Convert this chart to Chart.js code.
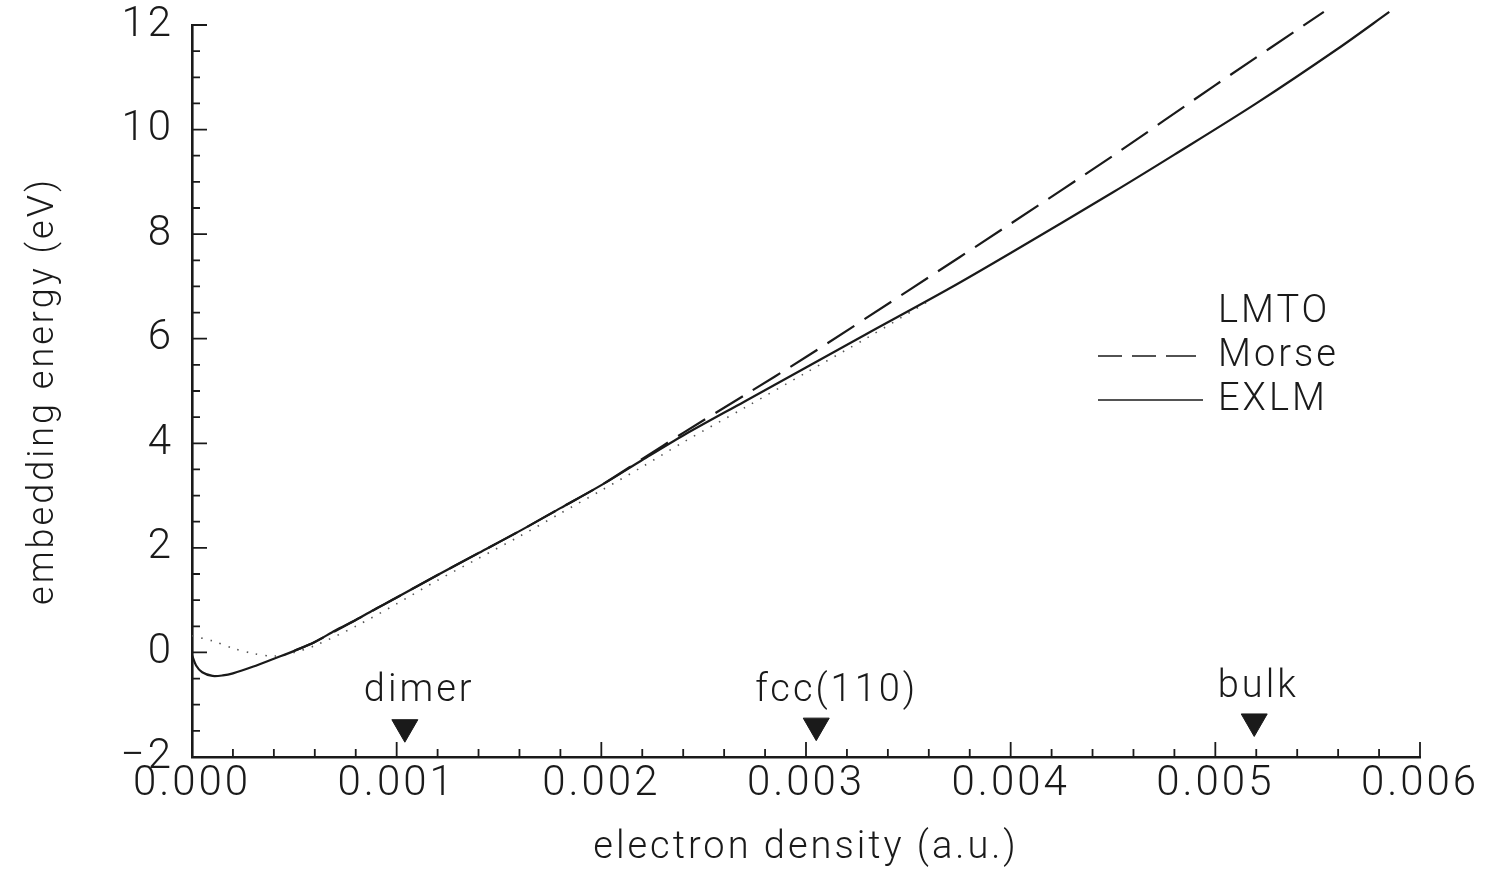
<!DOCTYPE html>
<html><head><meta charset="utf-8">
<script src="https://cdn.jsdelivr.net/npm/chart.js@4.4.1/dist/chart.umd.min.js"></script>
<style>html,body{margin:0;padding:0;background:#fff}#wrap{width:1485px;height:871px}</style>
</head><body><div id="wrap"><canvas id="c" width="1485" height="871"></canvas></div>
<script>
// ---- data ----
const densityExlm = [0, 0.00002, 0.00005, 0.0001, 0.00015, 0.0002, 0.0003, 0.0004, 0.0005, 0.0006, 0.0007, 0.0008, 0.0009, 0.001, 0.0012, 0.0014, 0.0016, 0.0018, 0.002, 0.0022, 0.0024, 0.0027, 0.003, 0.0033, 0.0037, 0.004, 0.0045, 0.0048, 0.0052, 0.0056, 0.00585];
const energyExlm  = [-0.05, -0.25, -0.38, -0.45, -0.44, -0.40, -0.27, -0.12, 0.03, 0.20, 0.42, 0.62, 0.84, 1.05, 1.48, 1.90, 2.32, 2.76, 3.20, 3.68, 4.15, 4.80, 5.45, 6.10, 6.96, 7.64, 8.80, 9.52, 10.50, 11.55, 12.25];

const densityMorse = [0.0005, 0.0006, 0.0008, 0.001, 0.0012, 0.0014, 0.0016, 0.0018, 0.002, 0.0022, 0.0024, 0.0027, 0.003, 0.0035, 0.004, 0.0045, 0.005, 0.00553];
const energyMorse  = [0.03, 0.20, 0.62, 1.05, 1.48, 1.90, 2.32, 2.76, 3.20, 3.70, 4.20, 4.92, 5.65, 6.92, 8.20, 9.50, 10.85, 12.25];

const densityLmto = [0, 0.0001, 0.0002, 0.0003, 0.0004, 0.0005, 0.0006, 0.0008, 0.001, 0.0012, 0.0014, 0.0016, 0.0018, 0.002, 0.0022, 0.0024, 0.0027, 0.003, 0.0033, 0.0036];
const energyLmto  = [0.32, 0.22, 0.08, -0.02, -0.07, 0.00, 0.13, 0.50, 0.93, 1.38, 1.80, 2.22, 2.66, 3.10, 3.55, 4.02, 4.68, 5.35, 6.02, 6.72];

const siteLabels = ['dimer', 'fcc(110)', 'bulk'];
const siteDensity = [0.00104, 0.00305, 0.00519];
const siteMarkerEnergy = [-1.43, -1.40, -1.32];
const siteLabelDensity = [0.00111, 0.00315, 0.00521];
const siteLabelEnergy = [-0.75, -0.75, -0.67];

const xTickValues = [0, 0.001, 0.002, 0.003, 0.004, 0.005, 0.006];
const yTickValues = [-2, 0, 2, 4, 6, 8, 10, 12];

const FONT = "Roboto, 'Liberation Sans', sans-serif";
const INK = '#1a1a1a';

function pts(xs, ys) { return xs.map((x, i) => ({ x, y: ys[i] })); }

const spacingPlugin = {
  id: 'spacing',
  beforeUpdate(chart) { chart.ctx.letterSpacing = '3px'; },
  beforeDraw(chart) { chart.ctx.letterSpacing = '3px'; }
};

const ticksPlugin = {
  id: 'innerTicks',
  afterDraw(chart) {
    const { ctx, scales: { x, y }, chartArea: a } = chart;
    ctx.save();
    ctx.strokeStyle = INK;
    ctx.lineWidth = 1.8;
    ctx.beginPath();
    for (let i = 0; i <= 30; i++) {
      const v = i * 0.0002;
      const px = x.getPixelForValue(v);
      const len = i % 5 === 0 ? 15 : 8;
      ctx.moveTo(px, a.bottom);
      ctx.lineTo(px, a.bottom - len);
    }
    for (let i = 0; i <= 28; i++) {
      const v = -2 + i * 0.5;
      const py = y.getPixelForValue(v);
      const len = i % 4 === 0 ? 15 : 8;
      ctx.moveTo(a.left, py);
      ctx.lineTo(a.left + len, py);
    }
    ctx.stroke();
    ctx.restore();
  }
};

const annotPlugin = {
  id: 'annot',
  afterDatasetsDraw(chart) {
    const { ctx, scales: { x, y } } = chart;
    ctx.save();
    ctx.letterSpacing = '3px';
    ctx.fillStyle = INK;
    ctx.font = "300 38px " + FONT;
    ctx.textAlign = 'center';
    ctx.textBaseline = 'middle';
    siteLabels.forEach((t, i) => {
      ctx.fillText(t, x.getPixelForValue(siteLabelDensity[i]), y.getPixelForValue(siteLabelEnergy[i]));
    });
    // legend
    const lx0 = 1098, lx1 = 1203, tx = 1218;
    const rows = [312, 356, 400];
    chart.data.datasets.slice(0, 3).forEach((ds, i) => {
      const ly = rows[i];
      if (ds.legendSample !== false) {
        ctx.save();
        ctx.strokeStyle = ds.borderColor;
        ctx.lineWidth = 1.6;
        ctx.setLineDash(ds.legendDash || []);
        ctx.beginPath();
        ctx.moveTo(lx0, ly);
        ctx.lineTo(lx1, ly);
        ctx.stroke();
        ctx.restore();
      }
      ctx.textAlign = 'left';
      ctx.fillText(ds.label, tx, ly);
    });
    ctx.restore();
  }
};

new Chart(document.getElementById('c'), {
  type: 'line',
  data: {
    datasets: [
      { label: 'LMTO', data: pts(densityLmto, energyLmto), borderColor: '#555', borderWidth: 1.6,
        borderDash: [1.5, 8], pointRadius: 0, tension: 0.3, legendSample: false, order: 3 },
      { label: 'Morse', data: pts(densityMorse, energyMorse), borderColor: INK, borderWidth: 2.2,
        borderDash: [32, 12], pointRadius: 0, tension: 0.3, legendDash: [24, 10, 24, 10, 30], order: 2, clip: false },
      { label: 'EXLM', data: pts(densityExlm, energyExlm), borderColor: INK, borderWidth: 2.2,
        pointRadius: 0, tension: 0.3, order: 1, clip: false },
      { label: 'sites', type: 'scatter', data: pts(siteDensity, siteMarkerEnergy), pointStyle: 'triangle',
        rotation: 180, pointRadius: 15, backgroundColor: INK, borderColor: INK, showLine: false, order: 0 }
    ]
  },
  options: {
    responsive: false,
    devicePixelRatio: 1,
    animation: false,
    layout: { padding: { left: 22, right: 65, top: 25, bottom: 0 } },
    plugins: { legend: { display: false }, tooltip: { enabled: false } },
    scales: {
      x: {
        type: 'linear', min: 0, max: 0.006,
        afterFit(s) { s.height = 114; s.paddingLeft = 0; s.paddingRight = 0; },
        afterBuildTicks(s) { s.ticks = xTickValues.map(v => ({ value: v })); },
        ticks: { color: INK, font: { family: FONT, size: 42, weight: 300 }, padding: 2,
          maxRotation: 0, callback: v => v.toFixed(3) },
        grid: { drawOnChartArea: false, drawTicks: false },
        border: { display: true, color: INK, width: 2.6 },
        title: { display: true, text: 'electron density (a.u.)', color: INK,
          font: { family: FONT, size: 38, weight: 300 }, padding: { top: 16, bottom: 0 } }
      },
      y: {
        type: 'linear', min: -2, max: 12,
        afterFit(s) { s.width = 170; s.paddingTop = 0; s.paddingBottom = 0; },
        afterBuildTicks(s) { s.ticks = yTickValues.map(v => ({ value: v })); },
        ticks: { color: INK, font: { family: FONT, size: 42, weight: 300 }, padding: 18,
          callback: v => (v < 0 ? '\u2212' + Math.abs(v) : String(v)) },
        grid: { drawOnChartArea: false, drawTicks: false },
        border: { display: true, color: INK, width: 2.6 },
        title: { display: true, text: 'embedding energy (eV)', color: INK,
          font: { family: FONT, size: 36, weight: 300 }, padding: { top: 0, bottom: 10 } }
      }
    }
  },
  plugins: [spacingPlugin, ticksPlugin, annotPlugin]
});
</script></body></html>
